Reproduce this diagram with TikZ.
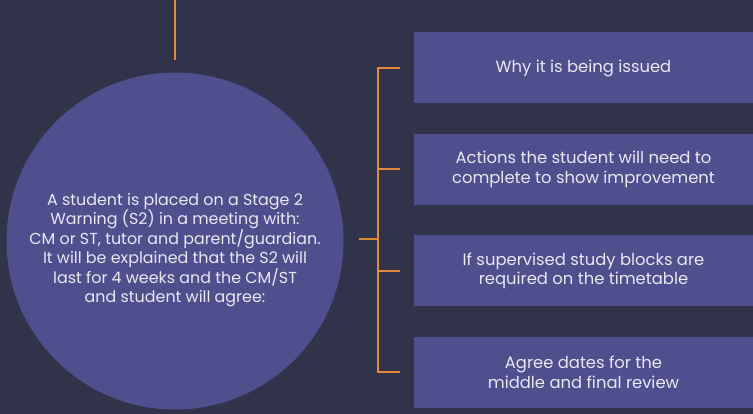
\documentclass[tikz,border=0pt]{standalone}
\usepackage{fontspec}
\setmainfont{Poppins}
\usetikzlibrary{positioning}

\definecolor{navy}{HTML}{30334A}
\definecolor{slate}{HTML}{4F4F8E}
\definecolor{amber}{HTML}{E08A3C}
\definecolor{pale}{HTML}{E8E8F2}

\tikzset{
  txt/.style={text=pale, align=center, font=\fontsize{15.9}{19.4}\selectfont},
  box/.style={txt, font=\fontsize{16.4}{19.5}\selectfont, fill=slate, minimum width=339pt, minimum height=71pt, inner sep=0pt},
  link/.style={amber, line width=1.8pt},
}

\begin{document}
\begin{tikzpicture}[x=1pt,y=-1pt]
  % Background
    \fill[navy] (0,0) rectangle (753,414);
    \useasboundingbox (0,0) rectangle (753,414);

  % Circle
    \node[circle, fill=slate, minimum size=337pt, inner sep=0pt] (warn) at (175,241) {};
    \node[txt] (warntext) at ([yshift=-9pt]warn.center)
      {A student is placed on a Stage 2\\
       Warning (S2) in a meeting with:\\
       CM or ST, tutor and parent/guardian.\\
       It will be explained that the S2 will\\
       last for 4 weeks and the CM/ST\\
       and student will agree:};

  % Boxes
    \node[box] (why) at (583.5,68) {Why it is being issued};
    \node[box, below=30pt of why] (actions) {Actions the student will need to\\complete to show improvement};
    \node[box, below=30pt of actions] (blocks) {If supervised study blocks are\\required on the timetable};
    \node[box, below=30pt of blocks] (dates) {Agree dates for the\\middle and final review};

  % Connectors
    \coordinate (top) at (175,0);
    \draw[link] (top) -- ([yshift=12pt]warn.north);
    \coordinate (upper) at ([xshift=-36pt,yshift=0.9pt]why.west);
    \coordinate (lower) at ([xshift=-36pt,yshift=-0.9pt]dates.west);
    \draw[link] (upper) -- (lower);
    \foreach \b in {why,actions,blocks,dates} {
      \draw[link] ([xshift=-14pt]\b.west) -- ([xshift=-36.9pt]\b.west);
    }
    \draw[link] ([xshift=15pt,yshift=2pt]warn.east) -- ++(20,0);
\end{tikzpicture}
\end{document}
